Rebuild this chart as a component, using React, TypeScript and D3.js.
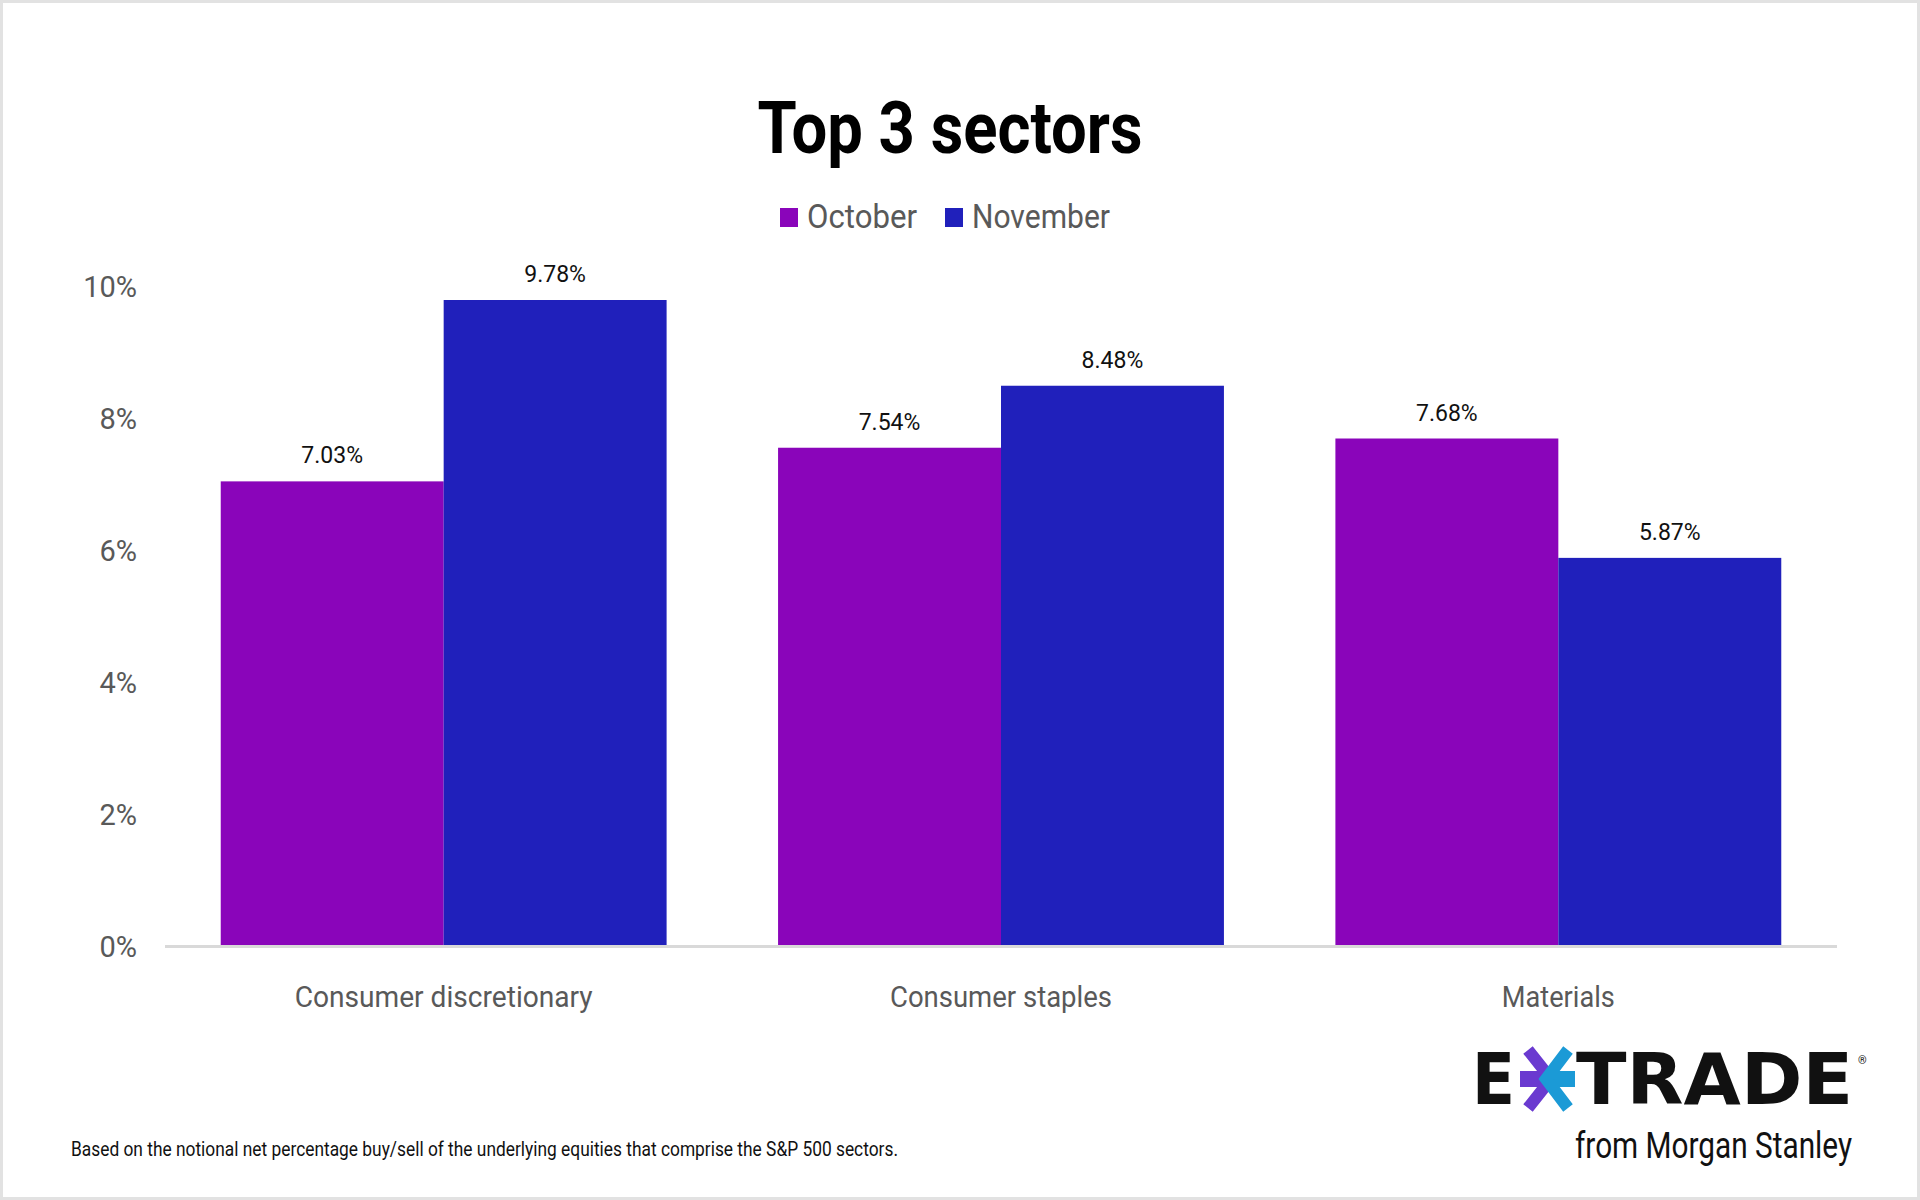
import { useEffect, useRef } from 'react';
import * as d3 from 'd3';

const sectors = ['Consumer discretionary', 'Consumer staples', 'Materials'];
const months = ['October', 'November'];
const october = [7.03, 7.54, 7.68];
const november = [9.78, 8.48, 5.87];
const yTicks = [0, 2, 4, 6, 8, 10];
const footnote = 'Based on the notional net percentage buy/sell of the underlying equities that comprise the S&P 500 sectors.';

const W = 1920;
const H = 1200;
const colors = ['#8a05ba', '#2020bb'];
const FONT = 'Roboto, "Liberation Sans", sans-serif';

export default function App() {
  const ref = useRef<SVGSVGElement>(null);

  useEffect(() => {
    if (!ref.current) return;
    const svg = d3.select(ref.current);
    svg.selectAll('*').remove();

    svg.append('rect').attr('width', W).attr('height', H).attr('fill', '#fff');
    svg.append('rect')
      .attr('x', 1.5).attr('y', 1.5).attr('width', W - 3).attr('height', H - 3)
      .attr('fill', 'none').attr('stroke', '#e2e2e2').attr('stroke-width', 3);

    const x0 = d3.scaleBand<string>().domain(sectors).range([165, 1837]).paddingInner(0.2).paddingOuter(0.1);
    const x1 = d3.scaleBand<string>().domain(months).range([0, x0.bandwidth()]);
    const y = d3.scaleLinear().domain([0, 10]).range([945, 285.5]);

    // title + legend
    svg.append('text')
      .attr('x', 950).attr('y', 153).attr('text-anchor', 'middle')
      .attr('font-family', FONT).attr('font-weight', 700).attr('font-size', 72)
      .attr('textLength', 385).attr('lengthAdjust', 'spacingAndGlyphs')
      .attr('fill', '#000').text('Top 3 sectors');

    const legendX = [780, 945];
    const legendW = [110, 138];
    months.forEach((m, i) => {
      svg.append('rect').attr('x', legendX[i]).attr('y', 208).attr('width', 18).attr('height', 19).attr('fill', colors[i]);
      svg.append('text')
        .attr('x', legendX[i] + 27).attr('y', 228)
        .attr('font-family', FONT).attr('font-size', 33).attr('fill', '#595959')
        .attr('textLength', legendW[i]).attr('lengthAdjust', 'spacingAndGlyphs')
        .text(m);
    });

    // y axis labels
    const yAxis = d3.axisLeft(y).tickValues(yTicks).tickSize(0).tickPadding(0).tickFormat(d => `${d}%`);
    const ya = svg.append('g').attr('transform', 'translate(137,2)').call(yAxis);
    ya.select('.domain').remove();
    ya.selectAll('text')
      .attr('font-family', FONT).attr('font-size', 29).attr('fill', '#595959');

    // baseline
    svg.append('line')
      .attr('x1', 165).attr('x2', 1837).attr('y1', y(0) + 1.5).attr('y2', y(0) + 1.5)
      .attr('stroke', '#d9d9d9').attr('stroke-width', 3);

    const series = [october, november];
    const groups = svg.append('g');
    sectors.forEach((s, si) => {
      const g = groups.append('g').attr('transform', `translate(${x0(s)},0)`);
      months.forEach((m, mi) => {
        const v = series[mi][si];
        g.append('rect')
          .attr('x', x1(m)!).attr('y', y(v))
          .attr('width', x1.bandwidth()).attr('height', y(0) - y(v))
          .attr('fill', colors[mi]);
        g.append('text')
          .attr('x', x1(m)! + x1.bandwidth() / 2).attr('y', y(v) - 18)
          .attr('text-anchor', 'middle')
          .attr('font-family', FONT).attr('font-size', 23).attr('fill', '#111')
          .text(`${v.toFixed(2)}%`);
      });
    });

    // category labels
    const catW = [298, 222, 113];
    sectors.forEach((s, i) => {
      svg.append('text')
        .attr('x', x0(s)! + x0.bandwidth() / 2).attr('y', 1007)
        .attr('text-anchor', 'middle')
        .attr('font-family', FONT).attr('font-size', 30).attr('fill', '#595959')
        .attr('textLength', catW[i]).attr('lengthAdjust', 'spacingAndGlyphs')
        .text(s);
    });

    // footnote
    svg.append('text')
      .attr('x', 71).attr('y', 1156)
      .attr('font-family', FONT).attr('font-size', 20).attr('fill', '#111')
      .attr('textLength', 827).attr('lengthAdjust', 'spacingAndGlyphs')
      .text(footnote);

    // logo
    const logo = svg.append('g');
    logo.append('text')
      .attr('x', 1472).attr('y', 1104)
      .attr('font-family', '"DejaVu Sans", sans-serif').attr('font-weight', 700).attr('font-size', 71)
      .attr('textLength', 43).attr('lengthAdjust', 'spacingAndGlyphs')
      .attr('fill', '#111').text('E');
    logo.append('rect').attr('x', 1520).attr('y', 1071).attr('width', 28).attr('height', 16).attr('fill', '#6a3ad0');
    logo.append('polyline')
      .attr('points', '1528,1050 1551,1079 1528,1108')
      .attr('fill', 'none').attr('stroke', '#6a3ad0').attr('stroke-width', 12);
    logo.append('rect').attr('x', 1548).attr('y', 1071).attr('width', 27).attr('height', 16).attr('fill', '#1b9ad6');
    logo.append('polyline')
      .attr('points', '1568,1050 1546,1079 1568,1108')
      .attr('fill', 'none').attr('stroke', '#1b9ad6').attr('stroke-width', 12);
    logo.append('text')
      .attr('x', 1576).attr('y', 1104)
      .attr('font-family', '"DejaVu Sans", sans-serif').attr('font-weight', 700).attr('font-size', 71)
      .attr('textLength', 277).attr('lengthAdjust', 'spacingAndGlyphs')
      .attr('fill', '#111').text('TRADE');
    logo.append('text')
      .attr('x', 1858).attr('y', 1064)
      .attr('font-family', FONT).attr('font-size', 11).attr('fill', '#111').text('®');
    logo.append('text')
      .attr('x', 1852).attr('y', 1158).attr('text-anchor', 'end')
      .attr('font-family', FONT).attr('font-size', 37).attr('fill', '#111')
      .attr('textLength', 277).attr('lengthAdjust', 'spacingAndGlyphs')
      .text('from Morgan Stanley');
  }, []);

  return (
    <svg ref={ref} width={W} height={H} viewBox={`0 0 ${W} ${H}`}
      style={{ position: 'absolute', left: 0, top: 0, display: 'block' }} />
  );
}
